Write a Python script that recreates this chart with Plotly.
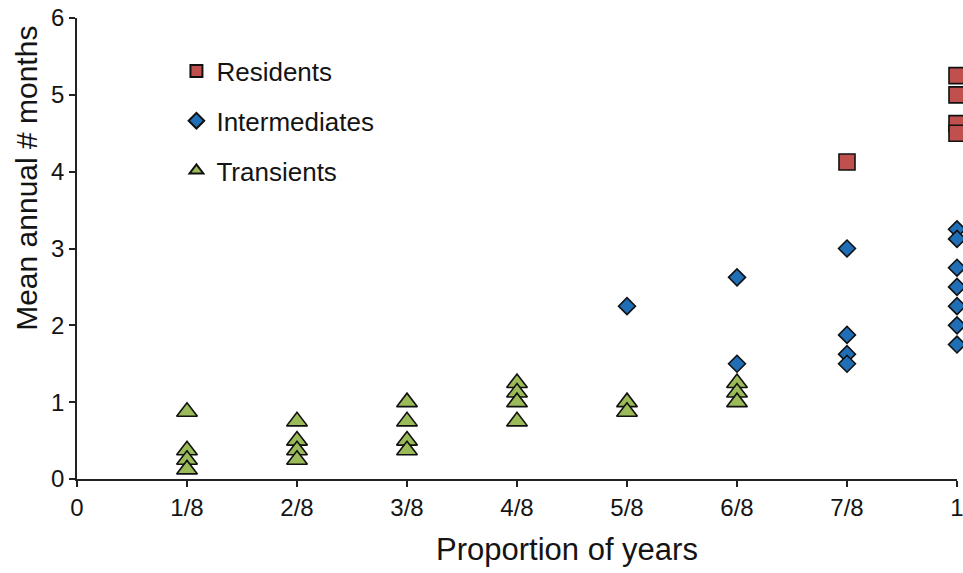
import plotly.graph_objects as go

# Proportion of years present (x) and mean annual number of months (y)
res_x = [7/8, 1, 1, 1, 1]
res_y = [4.125, 5.25, 5.0, 4.625, 4.5]

int_x = [5/8, 6/8, 6/8, 7/8, 7/8, 7/8, 7/8, 1, 1, 1, 1, 1, 1, 1]
int_y = [2.25, 2.625, 1.5, 3.0, 1.875, 1.625, 1.5, 3.25, 3.125, 2.75, 2.5, 2.25, 2.0, 1.75]

tra_x = [1/8, 1/8, 1/8, 1/8,
         2/8, 2/8, 2/8, 2/8,
         3/8, 3/8, 3/8, 3/8,
         4/8, 4/8, 4/8, 4/8,
         5/8, 5/8,
         6/8, 6/8, 6/8]
tra_y = [0.875, 0.375, 0.25, 0.125,
         0.75, 0.5, 0.375, 0.25,
         1.0, 0.75, 0.5, 0.375,
         1.25, 1.125, 1.0, 0.75,
         1.0, 0.875,
         1.25, 1.125, 1.0]

x_tickvals = [0, 1/8, 2/8, 3/8, 4/8, 5/8, 6/8, 7/8, 1]
x_ticktext = ["0", "1/8", "2/8", "3/8", "4/8", "5/8", "6/8", "7/8", "1"]
y_tickvals = [0, 1, 2, 3, 4, 5, 6]

FONT = "Liberation Sans, Arial, sans-serif"
INK = "#141414"
outline = dict(color="#111111", width=1.6)

fig = go.Figure()
fig.add_trace(go.Scatter(
    x=res_x, y=res_y, mode="markers", name="Residents", legendgroup="r",
    marker=dict(symbol="square", size=16, color="#C0504D", line=outline),
    cliponaxis=False))
fig.add_trace(go.Scatter(
    x=int_x, y=int_y, mode="markers", name="Intermediates", legendgroup="i",
    marker=dict(symbol="diamond", size=13, color="#1F6EB6", line=outline),
    cliponaxis=False))
fig.add_trace(go.Scatter(
    x=tra_x, y=tra_y, mode="markers", name="Transients", legendgroup="t",
    marker=dict(symbol="triangle-up", size=18, color="#9BBB59", line=outline),
    cliponaxis=False))

axis_common = dict(
    showgrid=False, zeroline=False, showline=True, linecolor="#222222", linewidth=1.6,
    ticks="outside", ticklen=6, tickwidth=1.6, tickcolor="#222222",
    ticklabeloverflow="allow", automargin=False,
)

fig.update_layout(
    width=963, height=573,
    margin=dict(l=77, r=6, t=18, b=94, autoexpand=False),
    paper_bgcolor="white", plot_bgcolor="white",
    font=dict(family=FONT, color=INK),
    xaxis=dict(range=[0, 1], tickvals=x_tickvals, ticktext=x_ticktext,
               tickfont=dict(size=24, family=FONT, color=INK), **axis_common),
    yaxis=dict(range=[0, 6], tickvals=y_tickvals,
               tickfont=dict(size=24, family=FONT, color=INK), **axis_common),
    legend=dict(x=0.113, y=0.936, xanchor="left", yanchor="top",
                font=dict(size=26, family=FONT, color=INK),
                bgcolor="rgba(0,0,0,0)", itemsizing="constant",
                tracegroupgap=13),
    annotations=[
        dict(text="Proportion of years", xref="paper", yref="paper",
             x=0.557, y=-0.152, xanchor="center", yanchor="middle",
             showarrow=False, font=dict(size=31, family=FONT, color=INK)),
        dict(text="Mean annual # months", xref="paper", yref="paper",
             x=-0.057, y=0.653, xanchor="center", yanchor="middle", textangle=-90,
             showarrow=False, font=dict(size=30, family=FONT, color=INK)),
    ],
)

fig.write_html("out.html")
